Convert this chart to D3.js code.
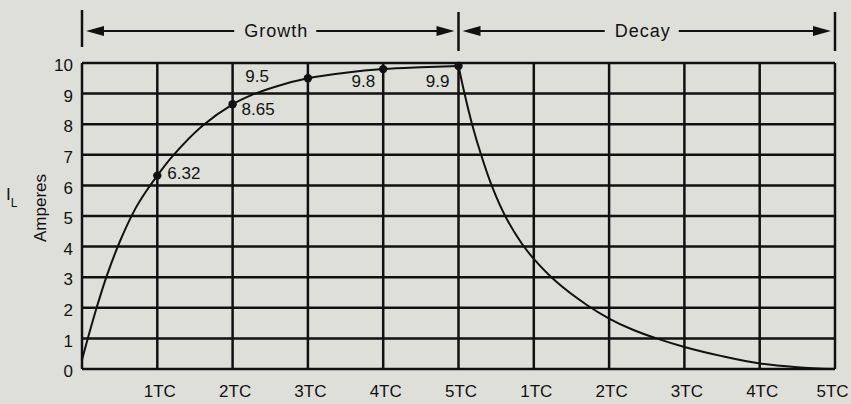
<!DOCTYPE html>
<html>
<head>
<meta charset="utf-8">
<script src="https://cdn.jsdelivr.net/npm/d3@7"></script>
<style>
  html, body { margin: 0; padding: 0; background: #dfdfda; }
  svg { display: block; }
  text { font-family: "Liberation Sans", Arial, Helvetica, sans-serif; fill: #111; }
</style>
</head>
<body>
<svg id="chart" width="851" height="404"></svg>
<script>
// Inductor current vs. time constants: growth phase then decay phase
const xTicks = [0, 1, 2, 3, 4, 5, 6, 7, 8, 9, 10];
const xTickLabels = ["", "1TC", "2TC", "3TC", "4TC", "5TC", "1TC", "2TC", "3TC", "4TC", "5TC"];
const yTicks = [0, 1, 2, 3, 4, 5, 6, 7, 8, 9, 10];

// Growth curve (time in TC, current in amperes)
const growthT = [0, 0.1, 0.2, 0.33, 0.5, 0.7, 0.85, 1, 1.2, 1.6, 2, 2.25, 2.6, 3, 3.5, 4, 4.5, 5];
const growthI = [0.3, 1.2, 2.05, 3.05, 4.15, 5.2, 5.8, 6.32, 6.95, 7.95, 8.65, 8.95, 9.25, 9.5, 9.68, 9.8, 9.86, 9.9];

// Decay curve (time in TC after switch-off, current in amperes)
const decayT = [0, 0.08, 0.18, 0.3, 0.44, 0.62, 0.84, 1.0, 1.3, 1.7, 2.0, 2.3, 2.63, 3.0, 3.5, 4.0, 4.5, 5];
const decayI = [9.9, 9.0, 8.0, 7.0, 6.0, 5.0, 4.1, 3.6, 2.85, 2.1, 1.65, 1.3, 1.0, 0.72, 0.42, 0.18, 0.06, 0];

// Marked points on the growth curve
const markT = [1, 2, 3, 4, 5];
const markI = [6.32, 8.65, 9.5, 9.8, 9.9];
const markLabels = ["6.32", "8.65", "9.5", "9.8", "9.9"];

// Phase headings above the plot
const phaseLabels = ["Growth", "Decay"];
const phaseStart = [0, 5];
const phaseEnd = [5, 10];

const svg = d3.select("#chart");
const x = d3.scaleLinear().domain([0, 10]).range([82, 835]);
const y = d3.scaleLinear().domain([0, 10]).range([369, 63]);

// grid
const grid = svg.append("g").attr("stroke", "#111").attr("stroke-width", 2.5);
grid.selectAll("line.h").data(yTicks).join("line")
  .attr("x1", x(0)).attr("x2", x(10))
  .attr("y1", d => y(d)).attr("y2", d => y(d));
grid.selectAll("line.v").data(xTicks).join("line")
  .attr("x1", d => x(d)).attr("x2", d => x(d))
  .attr("y1", y(0)).attr("y2", y(10));

// y axis labels
const yAxis = svg.append("g").attr("transform", `translate(${x(0) - 9},0)`)
  .call(d3.axisLeft(y).tickValues(yTicks).tickSize(0).tickPadding(0));
yAxis.select(".domain").remove();
yAxis.selectAll("text").attr("font-size", 17).attr("dy", "0.45em")
  .style("font-family", "'Liberation Sans', Arial, sans-serif").attr("fill", "#111");

// x axis labels
const xAxis = svg.append("g").attr("transform", `translate(0,${y(0)})`)
  .call(d3.axisBottom(x).tickValues(xTicks).tickSize(0).tickPadding(14)
    .tickFormat((d, i) => xTickLabels[i]));
xAxis.select(".domain").remove();
xAxis.selectAll("text").attr("font-size", 17).attr("dy", "0.85em")
  .style("font-family", "'Liberation Sans', Arial, sans-serif").attr("fill", "#111")
  .attr("dx", (d, i) => i === xTicks.length - 1 ? -3 : 2);

// y axis title
svg.append("text")
  .attr("transform", "translate(46,208) rotate(-90)")
  .attr("text-anchor", "middle").attr("font-size", 17)
  .text("Amperes");
const il = svg.append("text").attr("x", 6).attr("y", 200).attr("font-size", 17);
il.append("tspan").text("I");
il.append("tspan").attr("font-size", 12).attr("dy", 7).text("L");

// curves
const line = d3.line().curve(d3.curveCatmullRom.alpha(0.5)).x(d => x(d[0])).y(d => y(d[1]));
const growth = growthT.map((t, i) => [t, growthI[i]]);
const decay = decayT.map((t, i) => [5 + t, decayI[i]]);
svg.append("path").datum(growth).attr("d", line)
  .attr("fill", "none").attr("stroke", "#111").attr("stroke-width", 2);
svg.append("path").datum(decay).attr("d", line)
  .attr("fill", "none").attr("stroke", "#111").attr("stroke-width", 2);

// marked points and their labels
svg.selectAll("circle.mark").data(markT).join("circle")
  .attr("cx", d => x(d)).attr("cy", (d, i) => y(markI[i])).attr("r", 4.2)
  .attr("fill", "#111");
const labelOffset = [[10, 3, "start"], [9, 11, "start"], [-39, 4, "end"], [-8, 18, "end"], [-9, 21, "end"]];
svg.selectAll("text.mark").data(markT).join("text")
  .attr("x", (d, i) => x(d) + labelOffset[i][0])
  .attr("y", (d, i) => y(markI[i]) + labelOffset[i][1])
  .attr("text-anchor", (d, i) => labelOffset[i][2])
  .attr("font-size", 17)
  .text((d, i) => markLabels[i]);

// phase headings with arrows
const head = svg.append("g");
const arrowY = 31;
function arrowHead(tipX, dir) {
  const len = 18, half = 5;
  head.append("path")
    .attr("d", `M${tipX},${arrowY} L${tipX + dir * len},${arrowY - half} L${tipX + dir * len},${arrowY + half} Z`)
    .attr("fill", "#111");
}
[0, 5, 10].forEach((t, i) => {
  head.append("line").attr("x1", x(t)).attr("x2", x(t))
    .attr("y1", i === 0 ? 10 : 12).attr("y2", i === 0 ? 47 : 51)
    .attr("stroke", "#111").attr("stroke-width", 2.5);
});
phaseLabels.forEach((lab, i) => {
  const x0 = x(phaseStart[i]), x1 = x(phaseEnd[i]);
  const cx = (x0 + x1) / 2 + (i === 0 ? 6 : -4);
  const t = head.append("text").attr("x", cx).attr("y", 37)
    .attr("text-anchor", "middle").attr("font-size", 18).attr("letter-spacing", 1)
    .text(lab);
  const w = t.node().getComputedTextLength();
  const gap = 10;
  const left0 = x0 + 4, right1 = x1 - 4;
  head.append("line").attr("x1", left0 + 10).attr("x2", cx - w / 2 - gap)
    .attr("y1", arrowY).attr("y2", arrowY).attr("stroke", "#111").attr("stroke-width", 2);
  head.append("line").attr("x1", cx + w / 2 + gap - 2).attr("x2", right1 - 10)
    .attr("y1", arrowY).attr("y2", arrowY).attr("stroke", "#111").attr("stroke-width", 2);
  arrowHead(left0, 1);
  arrowHead(right1, -1);
});
</script>
</body>
</html>
